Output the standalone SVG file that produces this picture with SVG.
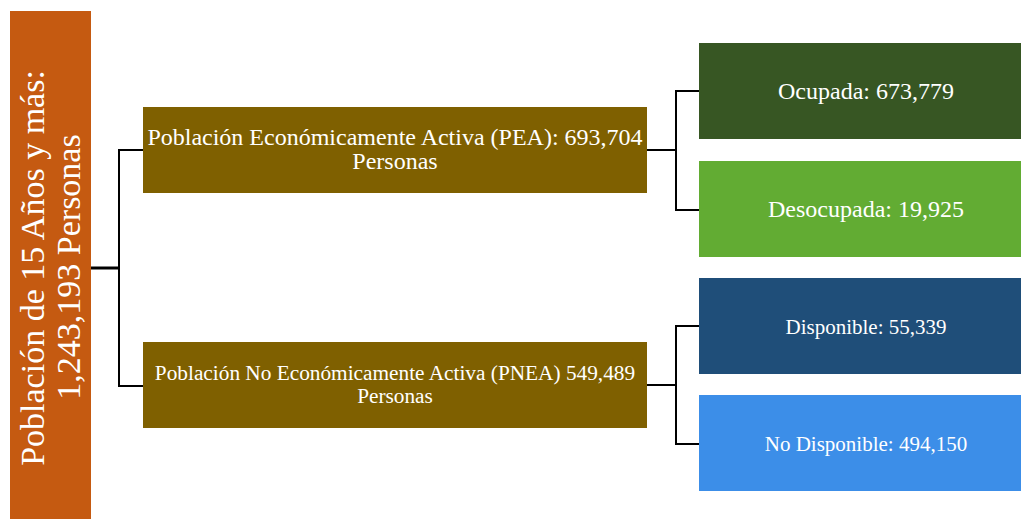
<svg xmlns="http://www.w3.org/2000/svg" width="1021" height="519" viewBox="0 0 1021 519">
<style>
text{font-family:"Liberation Serif","Times New Roman",serif;fill:#FFFFFF;text-anchor:middle}
.c{fill:none;stroke:#000;stroke-width:2}
.main{fill:none;stroke:#000;stroke-width:3}
</style>
<rect width="1021" height="519" fill="#FFFFFF"/>
<g id="connectors">
<path class="main" d="M91 268H119"/>
<path class="c" d="M143 150H119V386H143"/>
<path class="c" d="M647 150H676"/>
<path class="c" d="M699 91H676V210H699"/>
<path class="c" d="M647 385H676"/>
<path class="c" d="M699 326H676V444H699"/>
</g>
<g id="root">
<rect x="10" y="11" width="81" height="508" fill="#C55A11"/>
<text font-size="34" transform="translate(43.5,268) rotate(-90)">Población de 15 Años y más:</text>
<text font-size="34" transform="translate(80,267) rotate(-90)">1,243,193 Personas</text>
</g>
<g id="pea">
<rect x="143" y="107" width="504" height="86" fill="#7F6000"/>
<text x="395" y="145" font-size="24">Población Económicamente Activa (PEA): 693,704</text>
<text x="395" y="169" font-size="24">Personas</text>
</g>
<g id="pnea">
<rect x="143" y="342" width="504" height="86" fill="#7F6000"/>
<text x="395" y="380" font-size="21.3">Población No Económicamente Activa (PNEA) 549,489</text>
<text x="395" y="402.5" font-size="21.3">Personas</text>
</g>
<g id="ocupada">
<rect x="699" y="43" width="322" height="96" fill="#375623"/>
<text x="866" y="99" font-size="24">Ocupada: 673,779</text>
</g>
<g id="desocupada">
<rect x="699" y="161" width="322" height="96" fill="#62AC33"/>
<text x="866" y="217" font-size="24">Desocupada: 19,925</text>
</g>
<g id="disponible">
<rect x="699" y="278" width="322" height="96" fill="#1F4E79"/>
<text x="866" y="333.5" font-size="21">Disponible: 55,339</text>
</g>
<g id="nodisponible">
<rect x="699" y="395" width="322" height="96" fill="#3C8EE8"/>
<text x="866" y="451" font-size="21">No Disponible: 494,150</text>
</g>
</svg>
